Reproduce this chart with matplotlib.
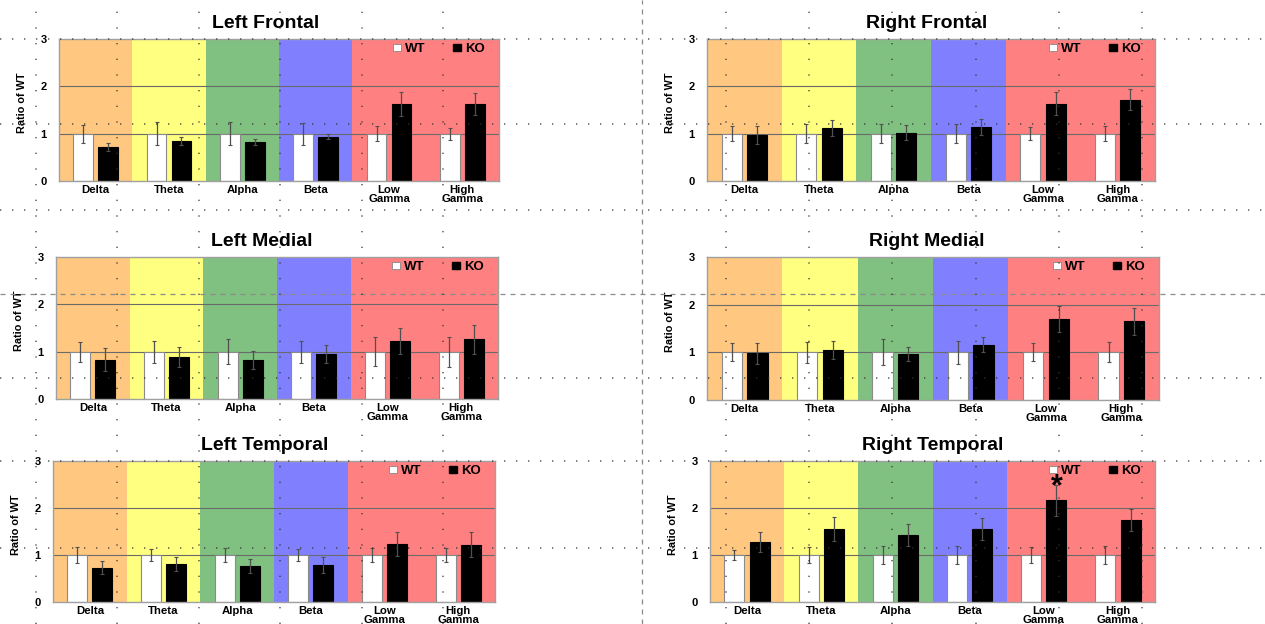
import matplotlib
matplotlib.use("Agg")
import matplotlib.pyplot as plt
from matplotlib.patches import Patch
from matplotlib.lines import Line2D

plt.rcParams["font.family"] = ["Liberation Sans", "DejaVu Sans"]

# Frequency bands on the x axis
bands = ["Delta", "Theta", "Alpha", "Beta", "Low\nGamma", "High\nGamma"]
yticks = [0, 1, 2, 3]

# WT is the reference group: every band normalised to 1
wt_ratio = [1.0, 1.0, 1.0, 1.0, 1.0, 1.0]

# Left Frontal
lf_wt_err = [0.19, 0.24, 0.24, 0.23, 0.16, 0.13]
lf_ko = [0.72, 0.85, 0.82, 0.94, 1.62, 1.62]
lf_ko_err = [0.09, 0.08, 0.06, 0.06, 0.25, 0.23]

# Right Frontal
rf_wt_err = [0.16, 0.20, 0.20, 0.20, 0.14, 0.16]
rf_ko = [0.97, 1.12, 1.02, 1.14, 1.63, 1.72]
rf_ko_err = [0.19, 0.17, 0.16, 0.17, 0.24, 0.23]

# Left Medial
lm_wt_err = [0.21, 0.23, 0.26, 0.23, 0.31, 0.32]
lm_ko = [0.83, 0.89, 0.82, 0.96, 1.22, 1.26]
lm_ko_err = [0.24, 0.21, 0.19, 0.19, 0.27, 0.30]

# Right Medial
rm_wt_err = [0.19, 0.22, 0.27, 0.24, 0.19, 0.21]
rm_ko = [0.98, 1.05, 0.96, 1.16, 1.70, 1.65]
rm_ko_err = [0.22, 0.19, 0.15, 0.16, 0.28, 0.28]

# Left Temporal
lt_wt_err = [0.16, 0.12, 0.15, 0.13, 0.15, 0.15]
lt_ko = [0.73, 0.81, 0.76, 0.78, 1.23, 1.22]
lt_ko_err = [0.14, 0.14, 0.15, 0.17, 0.25, 0.27]

# Right Temporal
rt_wt_err = [0.11, 0.16, 0.19, 0.19, 0.18, 0.20]
rt_ko = [1.27, 1.55, 1.43, 1.55, 2.17, 1.75]
rt_ko_err = [0.21, 0.25, 0.23, 0.23, 0.33, 0.23]

# Significant KO bands (index into bands) per panel
rt_signif = [4]

W, H = 1265, 624
fig = plt.figure(figsize=(W / 100, H / 100), dpi=100)
fig.patch.set_facecolor("white")

# band shading: (start, end, colour) in category units
shading = [(-0.5, 0.5, "#FFC77F"), (0.5, 1.5, "#FFFF80"), (1.5, 2.5, "#80C080"),
           (2.5, 3.5, "#8080FF"), (3.5, 5.5, "#FF8080")]


def panel(box, title, wt_err, ko, ko_err, signif=(), title_x=0.5):
    left, top, right, bottom = box
    ax = fig.add_axes([left / W, 1 - bottom / H, (right - left) / W, (bottom - top) / H])
    for x0, x1, c in shading:
        ax.axvspan(x0, x1, color=c, lw=0, zorder=0)
    for v in yticks[1:3]:
        ax.axhline(v, color="#6a6a6a", lw=0.8, zorder=1)
    x = list(range(len(bands)))
    off, bw = 0.17, 0.27
    ek = dict(ecolor="#505050", elinewidth=0.9, capsize=1.2, capthick=0.8)
    ax.bar([i - off for i in x], wt_ratio, width=bw, color="white",
           edgecolor="#8a8a8a", lw=0.8, zorder=2, yerr=wt_err, error_kw=ek)
    ax.bar([i + off for i in x], ko, width=bw, color="black",
           edgecolor="black", lw=0.8, zorder=2, yerr=ko_err, error_kw=ek)
    for i in signif:
        ax.annotate("*", xy=(i + off, ko[i] + ko_err[i]), xytext=(0, -7.5),
                    textcoords="offset points", ha="center", va="baseline",
                    fontsize=22, fontweight="bold", zorder=4)
    ax.set_xlim(-0.5, 5.5)
    ax.set_ylim(0, 3)
    ax.set_yticks(yticks)
    ax.set_yticklabels([str(t) for t in yticks], fontsize=8, fontweight="bold")
    ax.set_xticks(x)
    ax.set_xticklabels(bands, fontsize=8.2, fontweight="bold", linespacing=0.85)
    ax.tick_params(axis="both", length=0)
    ax.tick_params(axis="y", pad=9)
    ax.tick_params(axis="x", pad=3)
    for s in ax.spines.values():
        s.set_color("#a0a0a0")
        s.set_linewidth(1.0)
    ax.set_ylabel("Ratio of WT", fontsize=7.8, fontweight="bold",
                  family=["Liberation Sans Narrow", "Liberation Sans"])
    ax.yaxis.set_label_coords(-32 / (right - left), 0.55)
    ax.set_title(title, fontsize=14, fontweight="bold", pad=8, x=title_x)
    handles = [Patch(facecolor="white", edgecolor="#888888", lw=0.6),
               Patch(facecolor="black", edgecolor="black")]
    ax.legend(handles, ["WT", "KO"], ncol=2, loc="upper right",
              bbox_to_anchor=(1 - 9 / (right - left), 1.008), frameon=False,
              handlelength=0.6, handleheight=0.5, handletextpad=0.3,
              columnspacing=2.1, borderaxespad=0.0,
              prop=dict(size=9.5, weight="bold"))
    return ax


panel((59, 39, 499, 181), "Left Frontal", lf_wt_err, lf_ko, lf_ko_err, title_x=0.47)
panel((707, 39, 1155, 181), "Right Frontal", rf_wt_err, rf_ko, rf_ko_err, title_x=0.49)
panel((56, 257, 498, 399), "Left Medial", lm_wt_err, lm_ko, lm_ko_err, title_x=0.465)
panel((707, 257, 1159, 400), "Right Medial", rm_wt_err, rm_ko, rm_ko_err, title_x=0.487)
panel((53, 461, 495, 602), "Left Temporal", lt_wt_err, lt_ko, lt_ko_err, title_x=0.48)
panel((710, 461, 1155, 602), "Right Temporal", rt_wt_err, rt_ko, rt_ko_err, rt_signif)

# dashed dividers between the four quadrants
fig.add_artist(Line2D([642 / W, 642 / W], [0, 1], transform=fig.transFigure,
                      color="#8a8a8a", lw=0.9, ls=(0, (4, 4)), zorder=10))
fig.add_artist(Line2D([0, 1], [1 - 294 / H, 1 - 294 / H], transform=fig.transFigure,
                      color="#8a8a8a", lw=0.9, ls=(0, (4, 4)), zorder=10))

# faint dotted layout guides
guide_cols = [36, 117, 199, 280, 362, 443, 726, 809, 892, 976, 1059, 1142]
guide_rows = [39, 124, 210, 378, 461, 548]
for gx in guide_cols:
    fig.add_artist(Line2D([gx / W, gx / W], [0, 1], transform=fig.transFigure,
                          color="#333333", lw=1.2, ls=(0, (0.8, 8.6)),
                          alpha=0.75, zorder=11))
for gy in guide_rows:
    fig.add_artist(Line2D([0, 1], [1 - gy / H, 1 - gy / H], transform=fig.transFigure,
                          color="#333333", lw=1.2, ls=(0, (0.8, 6.4)),
                          alpha=0.75, zorder=11))

fig.savefig("out.png", dpi=100, facecolor="white")
